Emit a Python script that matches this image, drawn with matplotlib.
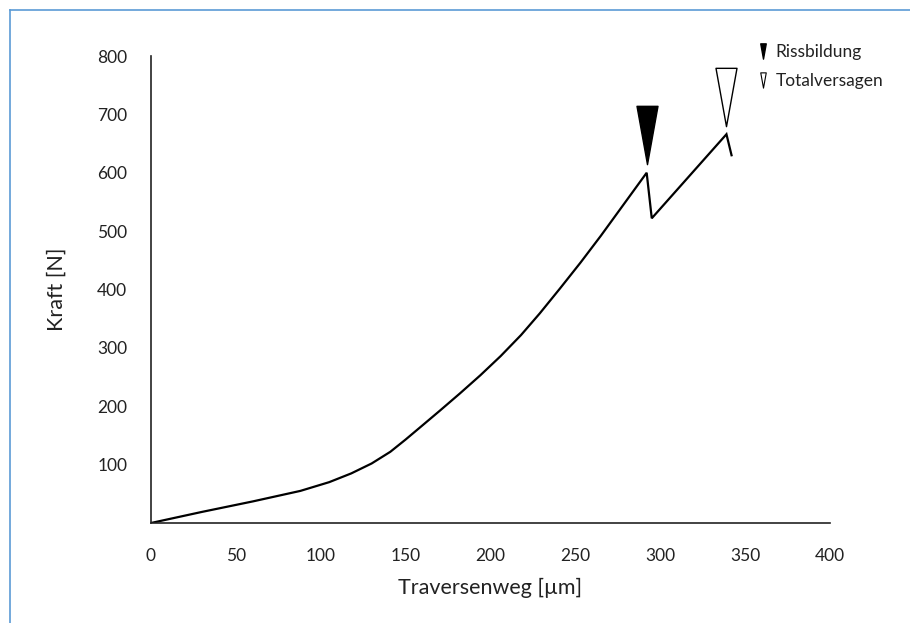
import matplotlib
matplotlib.use('Agg')
import matplotlib.pyplot as plt
from matplotlib.lines import Line2D
from matplotlib.path import Path
from matplotlib.transforms import offset_copy

plt.rcParams['font.family'] = ['Lato', 'DejaVu Sans']

# Kraft-Weg-Kurve
weg = [0, 30, 60, 88, 105, 118, 130, 141, 150, 159, 170, 182, 194, 206,
       218, 229, 241, 253, 265, 276, 292, 295, 339, 342]
kraft = [0, 19, 37, 55, 70, 85, 102, 122, 143, 165, 192, 222, 253, 286,
         322, 359, 402, 446, 492, 536, 600, 522, 666, 630]

riss_x, riss_y = 292, 600
total_x, total_y = 339, 666

xticks = [0, 50, 100, 150, 200, 250, 300, 350, 400]
yticks = [100, 200, 300, 400, 500, 600, 700, 800]

tri = Path([(-0.36, 1), (0.36, 1), (0, -1), (-0.36, 1)],
           [Path.MOVETO, Path.LINETO, Path.LINETO, Path.CLOSEPOLY])

fig = plt.figure(figsize=(9.1, 6.23), dpi=100)
ax = fig.add_axes([0.1659, 0.1605, 0.7462, 0.7496])

ax.plot(weg, kraft, color='black', lw=1.6, solid_joinstyle='miter')

# Markierungen ueber den Spitzen
trans = offset_copy(ax.transData, fig=fig, x=0, y=27, units='points')
ax.plot([riss_x], [riss_y], marker=tri, markersize=42, color='black',
        mec='black', mew=1, ls='none', transform=trans, clip_on=False)
ax.plot([total_x], [total_y], marker=tri, markersize=42, mfc='white',
        mec='black', mew=1, ls='none', transform=trans, clip_on=False)

ax.set_xlim(0, 400)
ax.set_ylim(0, 800)
ax.set_xticks(xticks)
ax.set_yticks(yticks)
ax.tick_params(length=0, labelsize=12.5, colors='#222222', pad=18)
ax.tick_params(axis='y', pad=17)
for s in ['top', 'right']:
    ax.spines[s].set_visible(False)
for s in ['left', 'bottom']:
    ax.spines[s].set_color('#222222')
    ax.spines[s].set_linewidth(1.2)

ax.set_xlabel('Traversenweg [µm]', fontsize=15.5, color='#222222', labelpad=10)
ax.set_ylabel('Kraft [N]', fontsize=15.5, color='#222222', labelpad=22)

handles = [
    Line2D([], [], marker=tri, markersize=11, color='black', ls='none'),
    Line2D([], [], marker=tri, markersize=11, mfc='white', mec='black', mew=0.8, ls='none'),
]
fig.legend(handles, ['Rissbildung', 'Totalversagen'], loc='upper left',
           bbox_to_anchor=(0.816, 0.955), frameon=False, fontsize=12.5,
           handlelength=0.5, handletextpad=0.5, labelspacing=0.75,
           labelcolor='#222222')

# blauer Rahmen
fig.add_artist(Line2D([0.0105, 0.0105], [0, 0.984], color='#5b9bd5', lw=1.2,
                      transform=fig.transFigure))
fig.add_artist(Line2D([0.0105, 1], [0.984, 0.984], color='#5b9bd5', lw=1.2,
                      transform=fig.transFigure))

fig.savefig('out.png', dpi=100, facecolor='white')
